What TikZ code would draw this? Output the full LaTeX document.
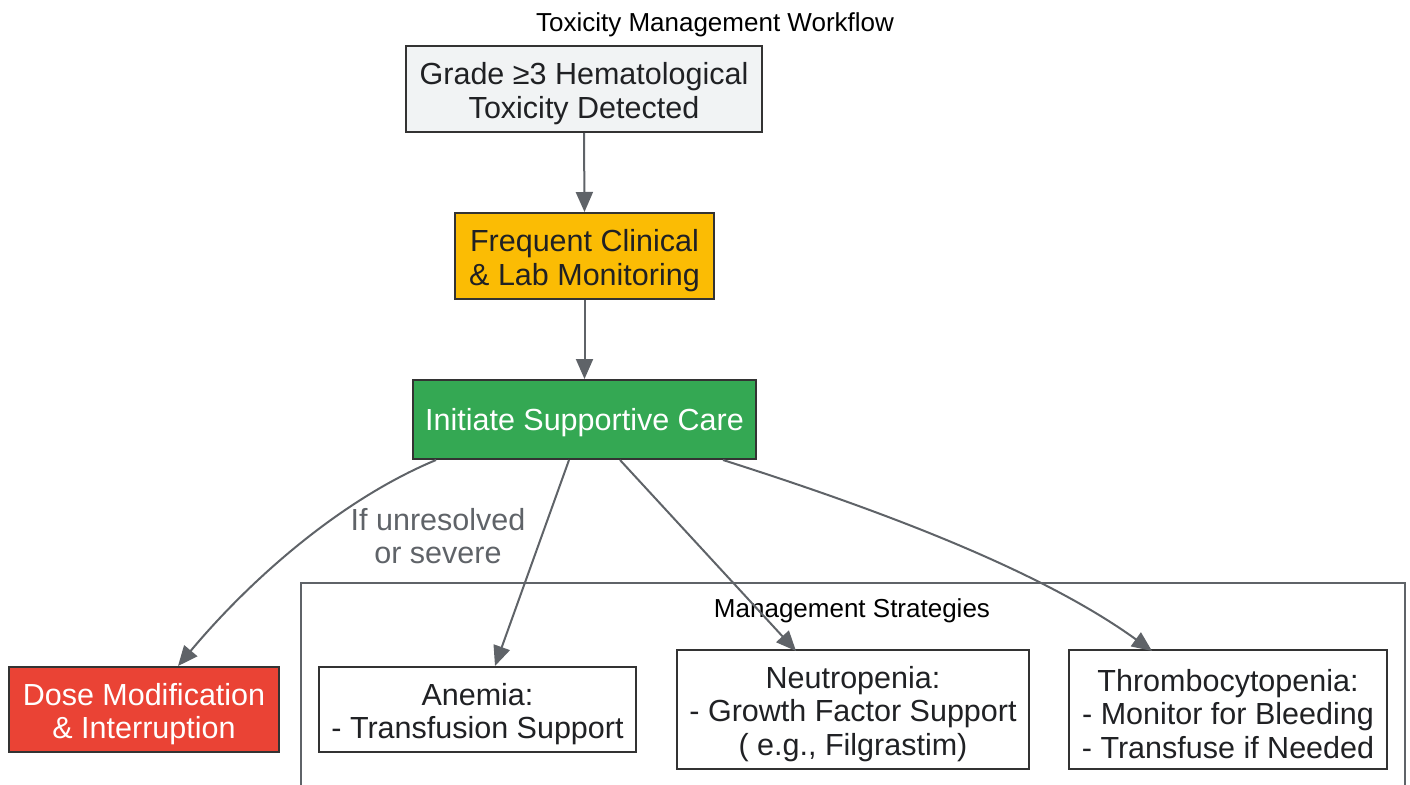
\documentclass[tikz,border=0pt]{standalone}
\usepackage{fontspec}
\setmainfont{Liberation Sans}
\usetikzlibrary{arrows.meta}
\definecolor{edgegray}{HTML}{5F6368}
\definecolor{boxline}{HTML}{333333}
\definecolor{txtdark}{HTML}{202124}
\definecolor{startfill}{HTML}{F1F3F4}
\definecolor{monfill}{HTML}{FBBC04}
\definecolor{carefill}{HTML}{34A853}
\definecolor{dosefill}{HTML}{EA4335}
\tikzset{
  box/.style={draw=boxline, line width=2pt, rectangle, align=center, inner sep=0pt,
    font=\fontsize{30.5}{33.5}\selectfont, text=txtdark},
  conn/.style={draw=edgegray, line width=2pt, -{Triangle[length=20pt,width=17pt]}},
  lbl/.style={font=\fontsize{30.5}{33.5}\selectfont, text=edgegray, align=center},
  small/.style={font=\fontsize{26}{30}\selectfont, text=black},
}
\begin{document}
\begin{tikzpicture}[x=1pt,y=-1pt]
\useasboundingbox (0,0) rectangle (1410,784);
\node[small] (title) at (715,25) {Toxicity Management Workflow};
% cluster
\draw[draw=edgegray, line width=2pt] (301,790) -- (301,583) -- (1405,583) -- (1405,790);
\node[small] (cltitle) at (852,611) {Management Strategies};
% nodes
\node[box, fill=startfill, minimum width=356pt, minimum height=86pt] (A) at (584,89) {};
\node[box, draw=none, anchor=center] (At) at (584,93.5) {Grade ≥3 Hematological\\Toxicity Detected};
\node[box, fill=monfill, minimum width=259pt, minimum height=86pt] (B) at (584.5,256) {};
\node[box, draw=none] (Bt) at (584.5,260.5) {Frequent Clinical\\\& Lab Monitoring};
\node[box, fill=carefill, text=white, minimum width=343pt, minimum height=79pt] (C) at (584.5,419.5) {};
\node[box, draw=none, text=white] (Ct) at (584.5,423) {Initiate Supportive Care};
\node[box, fill=dosefill, text=white, minimum width=270pt, minimum height=85pt] (D) at (144,709.5) {};
\node[box, draw=none, text=white] (Dt) at (144,714) {Dose Modification\\\& Interruption};
\node[box, fill=white, minimum width=317pt, minimum height=85pt] (E) at (477.5,709.5) {};
\node[box, draw=none] (Et) at (477.5,714) {Anemia:\\- Transfusion Support};
\node[box, fill=white, minimum width=352pt, minimum height=119pt] (F) at (853,709.5) {};
\node[box, draw=none] (Ft) at (853,714) {Neutropenia:\\- Growth Factor Support\\( e.g., Filgrastim)};
\node[box, fill=white, minimum width=318pt, minimum height=119pt] (G) at (1228,709.5) {};
\node[box, draw=none] (Gt) at (1228,714) {Thrombocytopenia:\\- Monitor for Bleeding\\- Transfuse if Needed};
% edges
\draw[conn] (A.south) -- (B.north);
\draw[conn] (B.south) -- (C.north);
\draw[conn] ([xshift=-148.5pt]C.south) .. controls (340,500) and (250,580) .. ([xshift=34pt]D.north);
\node[lbl] (L) at (438,536) {If unresolved\\or severe};
\draw[conn] ([xshift=-15.5pt]C.south) -- ([xshift=17.5pt]E.north);
\draw[conn] ([xshift=35.5pt]C.south) -- ([xshift=-57pt,yshift=-2pt]F.north);
\draw[conn] ([xshift=138.5pt]C.south) .. controls (880,510) and (1040,570) .. ([xshift=-76pt,yshift=-2pt]G.north);
\end{tikzpicture}
\end{document}
